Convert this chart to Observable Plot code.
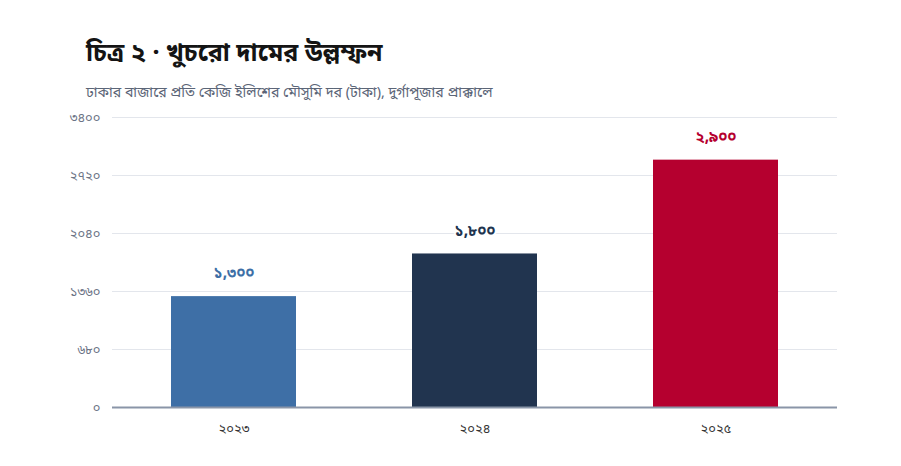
<!DOCTYPE html>
<html>
<head>
<meta charset="utf-8">
<script src="https://cdn.jsdelivr.net/npm/d3@7"></script>
<script src="https://cdn.jsdelivr.net/npm/@observablehq/plot@0.6"></script>
<style>
  html, body { margin: 0; padding: 0; background: #fff; }
  body { width: 901px; height: 466px; overflow: hidden; font-family: "Noto Sans Bengali", "Noto Sans", sans-serif; }
  #title { position: absolute; left: 86px; top: 40px; font-size: 25px; font-weight: 700; color: #141414; margin: 0; line-height: 1.2; }
  #subtitle { position: absolute; left: 86px; top: 85px; font-size: 14.2px; color: #5b6577; margin: 0; line-height: 1.2; }
  #chart { position: absolute; left: 0; top: 105px; }
</style>
</head>
<body>
<div id="title">চিত্র ২ · খুচরো দামের উল্লম্ফন</div>
<div id="subtitle">ঢাকার বাজারে প্রতি কেজি ইলিশের মৌসুমি দর (টাকা), দুর্গাপূজার প্রাক্কালে</div>
<div id="chart"></div>
<script>
const years = ["২০২৩", "২০২৪", "২০২৫"];
const prices = [1300, 1800, 2900];
const priceLabels = ["১,৩০০", "১,৮০০", "২,৯০০"];
const colors = ["#3e6fa6", "#21344f", "#b5002f"];
const yTicks = [0, 680, 1360, 2040, 2720, 3400];
const yTickLabels = ["০", "৬৮০", "১৩৬০", "২০৪০", "২৭২০", "৩৪০০"];

const data = years.map((y, i) => ({year: y, price: prices[i], label: priceLabels[i], color: colors[i]}));

const chart = Plot.plot({
  width: 901,
  height: 340,
  marginTop: 12,
  marginBottom: 38,
  marginLeft: 112,
  marginRight: 64,
  style: {fontFamily: "'Noto Sans Bengali', 'Noto Sans', sans-serif", background: "#fff"},
  x: {domain: years, paddingInner: 0.48, paddingOuter: 0.24, label: null, tickSize: 0},
  y: {domain: [0, 3400], label: null},
  marks: [
    Plot.gridY(yTicks, {stroke: "#e3e6ec", strokeOpacity: 1, strokeWidth: 1}),
    Plot.axisY(yTicks, {tickSize: 0, tickPadding: 12, tickFormat: (d) => yTickLabels[yTicks.indexOf(d)], fill: "#6b7385", fontSize: 13}),
    Plot.axisX(years, {tickSize: 0, tickPadding: 16, fill: "#333", fontSize: 13}),
    Plot.barY(data, {x: "year", y: "price", fill: "color"}),
    Plot.ruleY([0], {stroke: "#8a95a8", strokeWidth: 2}),
    Plot.text(data, {x: "year", y: "price", text: "label", fill: "color", dy: -23, fontSize: 15, fontWeight: 700, stroke: "#fff", strokeWidth: 4})
  ]
});
document.getElementById("chart").appendChild(chart);
</script>
</body>
</html>
